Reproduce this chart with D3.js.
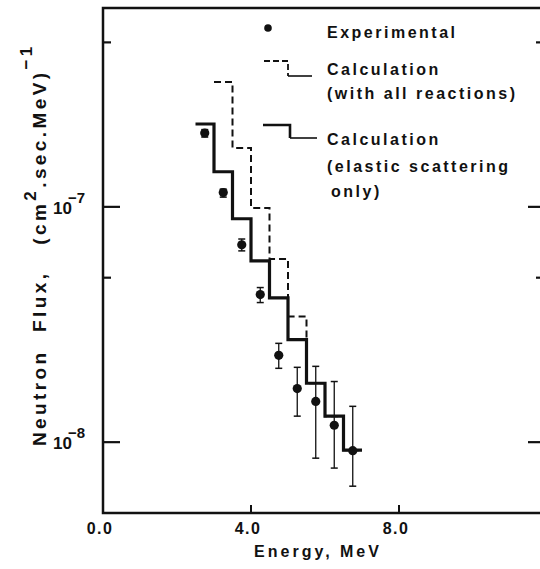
<!DOCTYPE html>
<html>
<head>
<meta charset="utf-8">
<script src="https://cdn.jsdelivr.net/npm/d3@7"></script>
<style>
  body { margin: 0; background: #fff; }
  svg { display: block; }
  text { font-family: 'Liberation Sans', Arial, sans-serif; font-weight: bold; fill: #111; }
</style>
</head>
<body>
<svg class="chart" width="540" height="569"></svg>
<script>
// bin edges of the calculated spectra, MeV
const binEdges = [2.5, 3.0, 3.5, 4.0, 4.5, 5.0, 5.5, 6.0, 6.5, 7.0]
// calculation, elastic scattering only (one value per bin from 2.5 MeV)
const elasticFlux = [2.25e-7, 1.41e-7, 8.9e-8, 5.9e-8, 4.1e-8, 2.73e-8, 1.78e-8, 1.29e-8, 9.25e-9]
// calculation with all reactions (bins from 3.0 MeV)
const allReactionsFlux = [3.39e-7, 1.78e-7, 9.9e-8, 6.0e-8, 3.42e-8, 1.78e-8, 1.29e-8, 9.25e-9]

// experimental points
const expEnergy = [2.75, 3.25, 3.75, 4.25, 4.75, 5.25, 5.75, 6.25, 6.75]
const expFlux = [2.06e-7, 1.15e-7, 6.9e-8, 4.24e-8, 2.34e-8, 1.69e-8, 1.49e-8, 1.18e-8, 9.2e-9]
const expHigh = [2.13e-7, 1.19e-7, 7.3e-8, 4.54e-8, 2.63e-8, 2.08e-8, 2.10e-8, 1.81e-8, 1.42e-8]
const expLow = [1.98e-7, 1.10e-7, 6.5e-8, 3.92e-8, 2.06e-8, 1.29e-8, 8.55e-9, 7.76e-9, 6.5e-9]

const xTicks = [0, 4, 8]
const yMajorTicks = [1e-7, 1e-8]
const yMinorTicks = [5e-7, 5e-8]

const svg = d3.select('svg.chart')
const x = d3.scaleLinear().domain([0, 12]).range([103, 547])
const y = d3.scaleLog().domain([5e-9, 7e-7]).range([513, 8])

// frame
const [x0, x1] = x.range()
const [yb, yt] = y.range()
svg.append('path')
  .attr('d', `M${x1},${yt}H${x0}V${yb}H${x1}V${yt}`)
  .attr('fill', 'none')
  .attr('stroke', '#111')
  .attr('stroke-width', 2.5)

// ticks (inside)
const tickG = svg.append('g').attr('stroke', '#111')
tickG.selectAll('line.xt').data(xTicks.slice(1)).join('line')
  .attr('x1', d => x(d)).attr('x2', d => x(d))
  .attr('y1', yb).attr('y2', yb - 8)
  .attr('stroke-width', 2)
tickG.selectAll('line.ymaj').data(yMajorTicks).join('line')
  .attr('x1', x0).attr('x2', x0 + 17)
  .attr('y1', d => y(d)).attr('y2', d => y(d))
  .attr('stroke-width', 2.2)
tickG.selectAll('line.ymin').data(yMinorTicks).join('line')
  .attr('x1', x0).attr('x2', x0 + 8)
  .attr('y1', d => y(d)).attr('y2', d => y(d))
  .attr('stroke-width', 2.2)
tickG.selectAll('line.ymajr').data(yMajorTicks).join('line')
  .attr('x1', x1).attr('x2', x1 - 19)
  .attr('y1', d => y(d)).attr('y2', d => y(d))
  .attr('stroke-width', 2.2)
tickG.selectAll('line.yminr').data(yMinorTicks).join('line')
  .attr('x1', x1).attr('x2', x1 - 11)
  .attr('y1', d => y(d)).attr('y2', d => y(d))
  .attr('stroke-width', 2.2)

// tick labels
svg.selectAll('text.xl').data(xTicks).join('text')
  .attr('x', d => x(d) - 3)
  .attr('y', 534)
  .attr('text-anchor', 'middle')
  .style('font-size', '16px')
  .style('letter-spacing', '1.5px')
  .text(d => d.toFixed(1))

const yl = svg.selectAll('text.yl').data(yMajorTicks).join('text')
  .attr('x', 53)
  .attr('y', d => y(d) + 7)
  .style('font-size', '17px')
yl.append('tspan').text('10')
yl.append('tspan').attr('dx', -4).attr('dy', -11).style('font-size', '15px')
  .text(d => '\u2212' + Math.round(-Math.log10(d)))

// axis titles
svg.append('text')
  .attr('x', 318)
  .attr('y', 557)
  .attr('text-anchor', 'middle')
  .style('font-size', '16px')
  .style('letter-spacing', '3px')
  .text('Energy,  MeV')

const yt1 = svg.append('text')
  .attr('transform', 'translate(46,446) rotate(-90)')
  .attr('text-anchor', 'start')
  .style('font-size', '19px')
  .style('letter-spacing', '3.4px')
  .style('white-space', 'pre')
yt1.append('tspan').text('Neutron  Flux,   (cm')
yt1.append('tspan').attr('dy', -10).style('font-size', '17px').text('2')
yt1.append('tspan').attr('dy', 10).text('.sec.MeV)')
yt1.append('tspan').attr('dy', -14).style('font-size', '17px').text('\u22121')

// step histograms
const stepLine = d3.line().x(d => x(d[0])).y(d => y(d[1])).curve(d3.curveStepAfter)
const allPts = allReactionsFlux.map((v, i) => [binEdges[i + 1], v])
allPts.push([binEdges[binEdges.length - 1], allReactionsFlux[allReactionsFlux.length - 1]])
const elPts = elasticFlux.map((v, i) => [binEdges[i], v])
elPts.push([binEdges[binEdges.length - 1], elasticFlux[elasticFlux.length - 1]])

svg.append('path')
  .attr('d', stepLine(allPts))
  .attr('fill', 'none')
  .attr('stroke', '#111')
  .attr('stroke-width', 2)
  .attr('stroke-dasharray', '7,4')
svg.append('path')
  .attr('d', stepLine(elPts))
  .attr('fill', 'none')
  .attr('stroke', '#111')
  .attr('stroke-width', 3.2)

// experimental points with error bars
const expData = expEnergy.map((e, i) => ({ e, v: expFlux[i], hi: expHigh[i], lo: expLow[i] }))
const eg = svg.append('g').attr('stroke', '#111')
eg.selectAll('line.bar').data(expData).join('line')
  .attr('x1', d => x(d.e)).attr('x2', d => x(d.e))
  .attr('y1', d => y(d.hi)).attr('y2', d => y(d.lo))
  .attr('stroke-width', 1.3)
eg.selectAll('line.cap-hi').data(expData).join('line')
  .attr('x1', d => x(d.e) - 3.5).attr('x2', d => x(d.e) + 3.5)
  .attr('y1', d => y(d.hi)).attr('y2', d => y(d.hi))
  .attr('stroke-width', 1.5)
eg.selectAll('line.cap-lo').data(expData).join('line')
  .attr('x1', d => x(d.e) - 3.5).attr('x2', d => x(d.e) + 3.5)
  .attr('y1', d => y(d.lo)).attr('y2', d => y(d.lo))
  .attr('stroke-width', 1.5)
svg.selectAll('circle.pt').data(expData).join('circle')
  .attr('cx', d => x(d.e))
  .attr('cy', d => y(d.v))
  .attr('r', 4.6)
  .attr('fill', '#111')

// legend
const lg = svg.append('g')
lg.append('circle').attr('cx', 268).attr('cy', 28).attr('r', 3.8).attr('fill', '#111')
lg.append('path').attr('d', 'M264,61H288V76').attr('fill', 'none')
  .attr('stroke', '#111').attr('stroke-width', 1.8).attr('stroke-dasharray', '6,3')
lg.append('path').attr('d', 'M288,76H312').attr('fill', 'none')
  .attr('stroke', '#111').attr('stroke-width', 1.6)
lg.append('path').attr('d', 'M263,125H290V138').attr('fill', 'none')
  .attr('stroke', '#111').attr('stroke-width', 2.6)
lg.append('path').attr('d', 'M290,138H317').attr('fill', 'none')
  .attr('stroke', '#111').attr('stroke-width', 1.6)

const legendLines = [
  ['Experimental', 327, 38],
  ['Calculation', 327, 75],
  ['(with all reactions)', 327, 99],
  ['Calculation', 327, 145],
  ['(elastic scattering', 327, 172],
  ['only)', 331, 197]
]
lg.selectAll('text').data(legendLines).join('text')
  .attr('x', d => d[1])
  .attr('y', d => d[2])
  .style('font-size', '16px')
  .style('letter-spacing', '2.5px')
  .text(d => d[0])
</script>
</body>
</html>
